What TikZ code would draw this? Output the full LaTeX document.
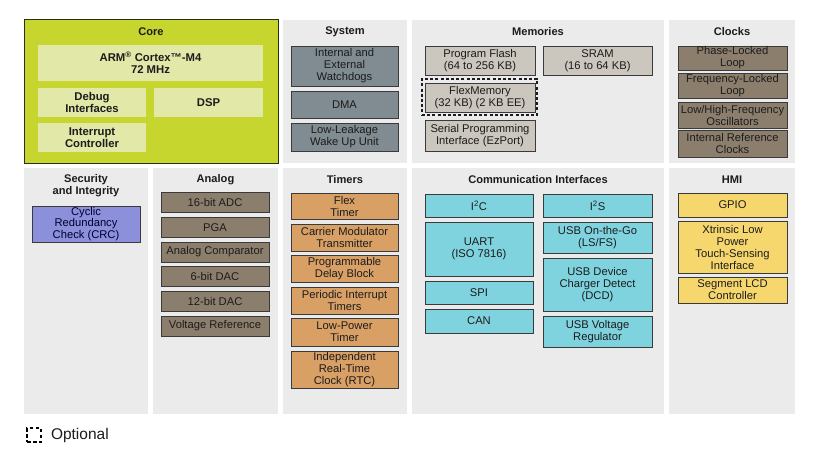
\documentclass[tikz,border=0pt]{standalone}
\usepackage{fontspec}
\setmainfont{Liberation Sans}
\usetikzlibrary{positioning}
\definecolor{panelgray}{HTML}{EBEBEB}
\definecolor{corefill}{HTML}{C6D62F}
\definecolor{coreinner}{HTML}{E2E8A8}
\definecolor{coreline}{HTML}{2A2E14}
\definecolor{sysfill}{HTML}{808B92}
\definecolor{memfill}{HTML}{CBC6BE}
\definecolor{clkfill}{HTML}{8C7E6C}
\definecolor{crcfill}{HTML}{8C8FD9}
\definecolor{timfill}{HTML}{D9A066}
\definecolor{comfill}{HTML}{7FD3DF}
\definecolor{hmifill}{HTML}{F6D76E}
\definecolor{blockline}{HTML}{3A3A3A}
\definecolor{darktext}{HTML}{1C1C1C}

\begin{document}
\begin{tikzpicture}[x=1pt, y=-1pt, inner sep=0pt, outer sep=0pt,
      font=\fontsize{11.2}{12}\selectfont,
      panel/.style={rectangle, fill=panelgray},
      title/.style={font=\fontsize{11.1}{12}\selectfont\bfseries, text=darktext, align=center},
      block/.style={rectangle, draw=blockline, line width=0.8pt, align=center, text=darktext},
      coreblock/.style={rectangle, fill=coreinner, align=center, text=darktext,
        font=\fontsize{11.3}{12}\selectfont\bfseries},
      sysblock/.style={block, fill=sysfill, minimum width=107},
      memblock/.style={block, fill=memfill, minimum width=110},
      clkblock/.style={block, fill=clkfill, minimum width=109},
      anablock/.style={block, fill=clkfill, minimum width=108, minimum height=20},
      timblock/.style={block, fill=timfill, minimum width=107},
      comblock/.style={block, fill=comfill, minimum width=108},
      hmiblock/.style={block, fill=hmifill, minimum width=109},
      optline/.style={draw=darktext, line width=1.6pt, dash pattern=on 3pt off 2.2pt},
      optkey/.style={draw=black, line width=2.2pt, dash pattern=on 3.5pt off 2.5pt}]
  \useasboundingbox[fill=white] (0,0) rectangle (820,460);

  % panels, top row
  \node[panel, fill=corefill, draw=coreline, line width=1pt,
    minimum width=254, minimum height=143](core) at(151,91.5) {};
  \node[panel, minimum width=124, minimum height=143](sys) at(345,91.5) {};
  \node[panel, minimum width=252, minimum height=143](mem) at(538,91.5) {};
  \node[panel, minimum width=126, minimum height=143](clk) at(732,91.5) {};
  % panels, bottom row
  \node[panel, minimum width=124, minimum height=246](sec) at(86,291) {};
  \node[panel, minimum width=125, minimum height=246](ana) at(215.5,291) {};
  \node[panel, minimum width=124, minimum height=246](tim) at(345,291) {};
  \node[panel, minimum width=252, minimum height=246](com) at(538,291) {};
  \node[panel, minimum width=126, minimum height=246](hmi) at(732,291) {};

  % titles
  \node[title](core_t) at(151,32) {Core};
  \node[title](sys_t) at(345,32) {System};
  \node[title](mem_t) at(538,32) {Memories};
  \node[title](clk_t) at(732,32) {Clocks};
  \node[title](sec_t) at(86,186) {Security\\and Integrity};
  \node[title](ana_t) at(215.5,180) {Analog};
  \node[title](tim_t) at(345,180) {Timers};
  \node[title](com_t) at(538,180) {Communication Interfaces};
  \node[title](hmi_t) at(732,180) {HMI};

  % core
  \node[coreblock, minimum width=225, minimum height=36](arm) at(150.5,63)
    {ARM\textsuperscript{®} Cortex™-M4\\72 MHz};
  \node[coreblock, minimum width=108, minimum height=29](dbg) at(92,102.5) {Debug\\Interfaces};
  \node[coreblock, minimum width=109, minimum height=29](dsp) at(208.5,102.5) {DSP};
  \node[coreblock, minimum width=108, minimum height=29](irq) at(92,137.5) {Interrupt\\Controller};

  % system
  \node[sysblock, minimum height=40](sys_1) at(344.5,66) {Internal and\\External\\Watchdogs};
  \node[sysblock, minimum height=27](sys_2) at(344.5,104.5) {DMA};
  \node[sysblock, minimum height=28](sys_3) at(344.5,137) {Low-Leakage\\Wake Up Unit};

  % memories
  \node[memblock, minimum height=29](mem_1) at(480,60.5) {Program Flash\\(64 to 256 KB)};
  \node[memblock, minimum width=109, minimum height=29](mem_2) at(597.5,60.5) {SRAM\\(16 to 64 KB)};
  \node[optline, minimum width=115, minimum height=36](flex_opt) at(479.5,97) {};
  \node[memblock, minimum height=29](mem_3) at(480,97.5) {FlexMemory\\(32 KB) (2 KB EE)};
  \node[memblock, minimum height=31](mem_4) at(480,135.5) {Serial Programming\\Interface (EzPort)};

  % clocks
  \node[clkblock, minimum height=24](clk_1) at(732.5,58) {Phase-Locked\\Loop};
  \node[clkblock, minimum height=25](clk_2) at(732.5,85.5) {Frequency-Locked\\Loop};
  \node[clkblock, minimum height=26](clk_3) at(732.5,115) {Low/High-Frequency\\Oscillators};
  \node[clkblock, minimum height=27](clk_4) at(732.5,143.5) {Internal Reference\\Clocks};

  % security and integrity
  \node[block, fill=crcfill, text=black!80!blue, minimum width=108, minimum height=36,
    font=\fontsize{11.2}{10.2}\selectfont](crc) at(86,224) {Cyclic\\Redundancy\\Check (CRC)};

  % analog
  \node[anablock](ana_1) at(215,202.5) {16-bit ADC};
  \node[anablock](ana_2) at(215,227.2) {PGA};
  \node[anablock](ana_3) at(215,251.9) {Analog Comparator};
  \node[anablock](ana_4) at(215,276.6) {6-bit DAC};
  \node[anablock](ana_5) at(215,301.3) {12-bit DAC};
  \node[anablock](ana_6) at(215,326) {Voltage Reference};

  % timers
  \node[timblock, minimum height=26](tim_1) at(344.5,206) {Flex\\Timer};
  \node[timblock, minimum height=27](tim_2) at(344.5,237.5) {Carrier Modulator\\Transmitter};
  \node[timblock, minimum height=27](tim_3) at(344.5,268.5) {Programmable\\Delay Block};
  \node[timblock, minimum height=27](tim_4) at(344.5,300.5) {Periodic Interrupt\\Timers};
  \node[timblock, minimum height=28](tim_5) at(344.5,332) {Low-Power\\Timer};
  \node[timblock, minimum height=37](tim_6) at(344.5,369.5) {Independent\\Real-Time\\Clock (RTC)};

  % communication interfaces
  \node[comblock, minimum height=23](com_1) at(479,205.5) {I\textsuperscript{2}C};
  \node[comblock, minimum height=54](com_2) at(479,249) {UART\\(ISO 7816)};
  \node[comblock, minimum height=23](com_3) at(479,292.5) {SPI};
  \node[comblock, minimum height=24](com_4) at(479,321) {CAN};
  \node[comblock, minimum width=109, minimum height=23](com_5) at(597.5,205.5) {I\textsuperscript{2}S};
  \node[comblock, minimum width=109, minimum height=31](com_6) at(597.5,237.5) {USB On-the-Go\\(LS/FS)};
  \node[comblock, minimum width=109, minimum height=53](com_7) at(597.5,284.5) {USB Device\\Charger Detect\\(DCD)};
  \node[comblock, minimum width=109, minimum height=31](com_8) at(597.5,331.5) {USB Voltage\\Regulator};

  % hmi
  \node[hmiblock, minimum height=24](hmi_1) at(732.5,205) {GPIO};
  \node[hmiblock, minimum height=52](hmi_2) at(732.5,247) {Xtrinsic Low\\Power\\Touch-Sensing\\Interface};
  \node[hmiblock, minimum height=26](hmi_3) at(732.5,290) {Segment LCD\\Controller};

  % legend
  \node[optkey, minimum size=14](opt) at(34,435) {};
  \node[right=10pt of opt, font=\fontsize{15.5}{16}\selectfont, text=darktext](opt_l) {Optional};
\end{tikzpicture}
\end{document}
